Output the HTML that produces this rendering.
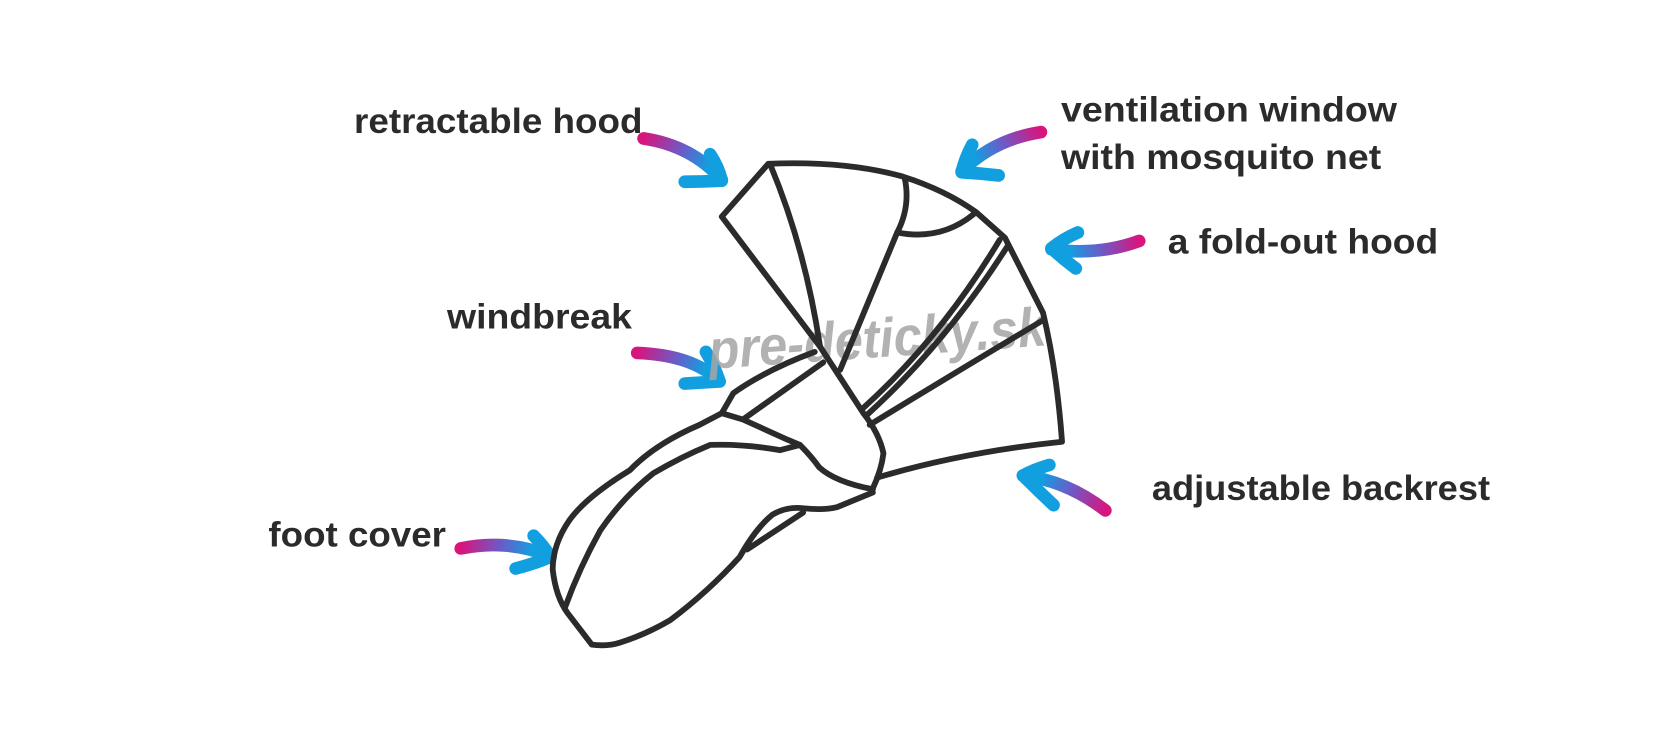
<!DOCTYPE html>
<html><head><meta charset="utf-8"><style>
html,body{margin:0;padding:0;background:#fff;}
svg{display:block;}
text{font-family:"Liberation Sans",sans-serif;font-weight:bold;fill:#2b2b2b;font-size:33px;}
</style></head><body>
<svg width="1657" height="745" viewBox="0 0 1568 705" xmlns="http://www.w3.org/2000/svg">
<defs>
<linearGradient id="g1" gradientUnits="userSpaceOnUse" x1="609" y1="131" x2="683" y2="170"><stop offset="0" stop-color="#d8157d"/><stop offset="0.45" stop-color="#6a5cc8"/><stop offset="0.8" stop-color="#129fe0"/></linearGradient>
<linearGradient id="g2" gradientUnits="userSpaceOnUse" x1="985" y1="125" x2="910" y2="162"><stop offset="0" stop-color="#d8157d"/><stop offset="0.45" stop-color="#6a5cc8"/><stop offset="0.8" stop-color="#129fe0"/></linearGradient>
<linearGradient id="g3" gradientUnits="userSpaceOnUse" x1="1078" y1="228" x2="995" y2="236"><stop offset="0" stop-color="#d8157d"/><stop offset="0.45" stop-color="#6a5cc8"/><stop offset="0.8" stop-color="#129fe0"/></linearGradient>
<linearGradient id="g4" gradientUnits="userSpaceOnUse" x1="603" y1="334" x2="680" y2="360"><stop offset="0" stop-color="#d8157d"/><stop offset="0.45" stop-color="#6a5cc8"/><stop offset="0.8" stop-color="#129fe0"/></linearGradient>
<linearGradient id="g5" gradientUnits="userSpaceOnUse" x1="1046" y1="483" x2="968" y2="450"><stop offset="0" stop-color="#d8157d"/><stop offset="0.45" stop-color="#6a5cc8"/><stop offset="0.8" stop-color="#129fe0"/></linearGradient>
<linearGradient id="g6" gradientUnits="userSpaceOnUse" x1="436" y1="519" x2="520" y2="526"><stop offset="0" stop-color="#d8157d"/><stop offset="0.45" stop-color="#6a5cc8"/><stop offset="0.8" stop-color="#129fe0"/></linearGradient>
</defs>

<text x="335" y="126" textLength="273" lengthAdjust="spacingAndGlyphs">retractable hood</text>
<text x="1004" y="115" textLength="318" lengthAdjust="spacingAndGlyphs">ventilation window</text>
<text x="1004" y="160" textLength="303" lengthAdjust="spacingAndGlyphs">with mosquito net</text>
<text x="1105" y="240" textLength="256" lengthAdjust="spacingAndGlyphs">a fold-out hood</text>
<text x="423" y="311" textLength="175" lengthAdjust="spacingAndGlyphs">windbreak</text>
<text x="1090" y="473" textLength="320" lengthAdjust="spacingAndGlyphs">adjustable backrest</text>
<text x="254" y="517" textLength="168" lengthAdjust="spacingAndGlyphs">foot cover</text>

<g fill="none" stroke-linecap="round" stroke-linejoin="round" stroke-width="12">
<path d="M609 131 Q655 138 683 170" stroke="url(#g1)"/>
<path d="M672 146 Q680 158 683 171 Q665 172 648 172" stroke="#129fe0"/>
<path d="M985 125 Q940 132 910 162" stroke="url(#g2)"/>
<path d="M920 137 Q913 150 910 163 Q928 164 945 166" stroke="#129fe0"/>
<path d="M1078 228 Q1040 242 995 236" stroke="url(#g3)"/>
<path d="M1020 220 Q1006 226 995 235 Q1006 245 1018 254" stroke="#129fe0"/>
<path d="M603 334 Q655 336 680 360" stroke="url(#g4)"/>
<path d="M668 333 Q676 346 681 361 Q664 362 648 363" stroke="#129fe0"/>
<path d="M1046 483 Q1010 455 968 450" stroke="url(#g5)"/>
<path d="M993 440 Q979 444 968 450 Q982 464 997 478" stroke="#129fe0"/>
<path d="M436 519 Q480 510 520 526" stroke="url(#g6)"/>
<path d="M505 507 Q514 516 521 527 Q504 534 488 538" stroke="#129fe0"/>
</g>

<text x="670" y="338" transform="rotate(-4 830 320)" textLength="320" lengthAdjust="spacingAndGlyphs" style="font-style:italic;font-size:52px;fill:#a5a5a5;opacity:0.85">pre-deticky.sk</text>

<g fill="none" stroke="#2b2b2b" stroke-width="5.5" stroke-linecap="round" stroke-linejoin="round">
<path d="M776 328 L683 205 L727 155 Q800 152 854 167 Q895 180 924 201 L951 225 L987 296 Q1000 350 1005 418 Q910 428 830 452"/>
<path d="M729 156 Q762 235 776 328"/>
<path d="M856 168 Q862 195 849 220 L795 350"/>
<path d="M849 220 Q890 228 921 203"/>
<path d="M946 227 Q890 320 817 386"/>
<path d="M954 232 Q895 325 820 393"/>
<path d="M987 303 Q900 355 823 402"/>
<path d="M776 328 L817 391 Q832 410 836 429 Q834 445 826 462"/>
<path d="M779 343 L703 397 L683 391 L694 372 Q725 350 771 333"/>
<path d="M703 397 L745 416 L757 421 Q768 432 775 442 Q790 456 826 463"/>
<path d="M683 391 L662 402 Q620 420 596 445 Q555 470 539 492 Q523 515 523 539 Q526 565 537 580 L560 610 Q575 612 587 608 Q612 600 634 587 Q670 560 700 527 Q715 500 731 487 Q745 479 760 481 Q780 483 792 480 L826 466"/>
<path d="M757 421 L738 426 Q705 420 672 421 Q645 432 618 448 Q590 470 568 502 Q548 538 535 574"/>
<path d="M707 520 L760 485"/>
</g>
</svg>
</body></html>
